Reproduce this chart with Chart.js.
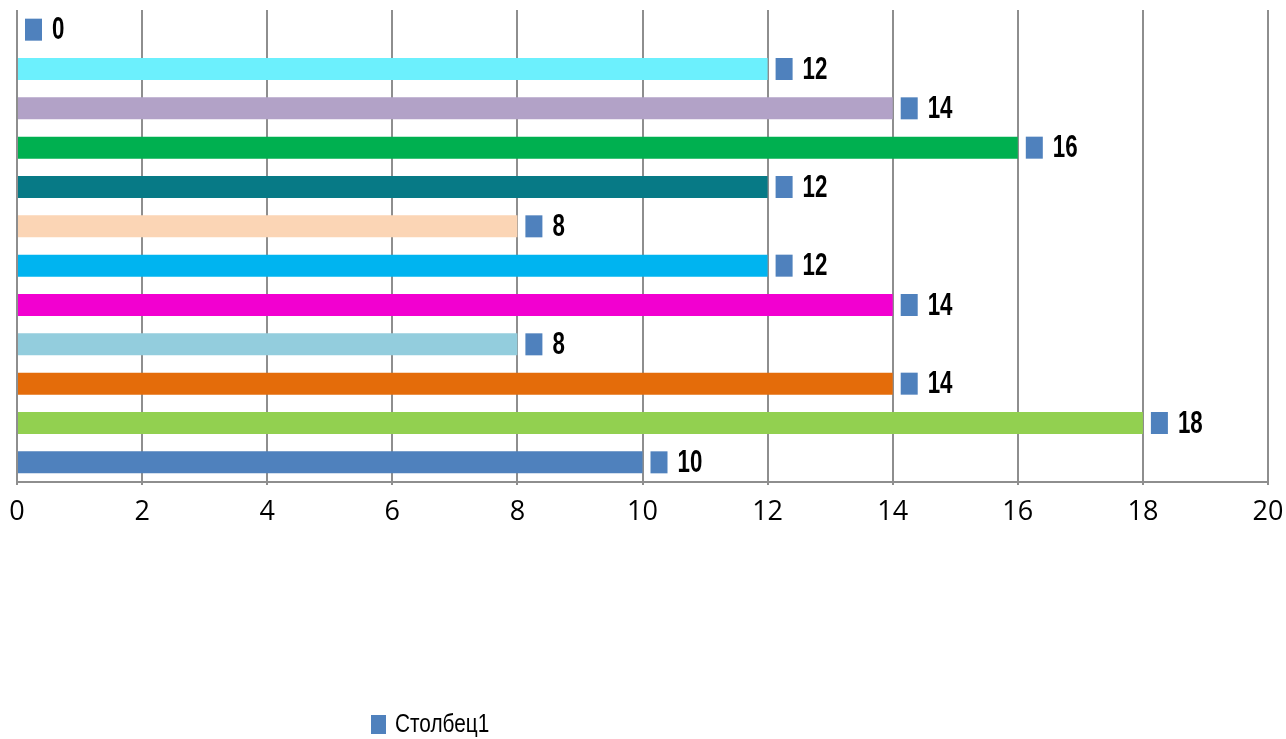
<!DOCTYPE html>
<html>
<head>
<meta charset="utf-8">
<script src="https://cdn.jsdelivr.net/npm/chart.js@4"></script>
<style>
  html, body { margin: 0; padding: 0; background: #fff; }
  #wrap { width: 1286px; height: 739px; }
</style>
</head>
<body>
<div id="wrap"><canvas id="c" width="1286" height="739"></canvas></div>
<script>
// categories top -> bottom (unnamed in the original)
const categories = ['1', '2', '3', '4', '5', '6', '7', '8', '9', '10', '11', '12'];
const values = [0, 12, 14, 16, 12, 8, 12, 14, 8, 14, 18, 10];
const barColors = ['#e6b9b8', '#6cf0fd', '#b2a2c7', '#00b050', '#077a86', '#fbd5b5',
    '#00b4f0', '#f200d0', '#93cddd', '#e46c0a', '#92d050', '#4f81bd'];
const xTicks = [0, 2, 4, 6, 8, 10, 12, 14, 16, 18, 20];
const seriesName = 'Столбец1';

const markerColor = '#4f81bd';
const sans = '"Liberation Sans", Arial, sans-serif';

// fake a narrow face, none is installed
function narrowText(ctx, text, x, y, squeeze) {
    ctx.save();
    ctx.translate(x, y);
    ctx.scale(squeeze, 1);
    ctx.fillText(text, 0, 0);
    ctx.restore();
}

// value labels: small blue box + bold number past the bar end
const valueLabels = {
    id: 'valueLabels',
    afterDatasetsDraw(chart) {
        const ctx = chart.ctx;
        const meta = chart.getDatasetMeta(0);
        ctx.save();
        ctx.font = 'bold 31px ' + sans;
        ctx.textBaseline = 'middle';
        meta.data.forEach((bar, i) => {
            ctx.fillStyle = markerColor;
            ctx.fillRect(bar.x + 8, bar.y - 11, 17, 22);
            ctx.fillStyle = '#000';
            narrowText(ctx, String(values[i]), bar.x + 35, bar.y + 1, 0.72);
        });
        ctx.restore();
    }
};

// legend drawn below, off-centre like the original
const bottomLegend = {
    id: 'bottomLegend',
    afterDraw(chart) {
        const ctx = chart.ctx;
        ctx.save();
        ctx.fillStyle = markerColor;
        ctx.fillRect(371, 715, 15, 19);
        ctx.fillStyle = '#000';
        ctx.font = '26px ' + sans;
        ctx.textBaseline = 'middle';
        narrowText(ctx, chart.data.datasets[0].label, 395, 725, 0.8);
        ctx.restore();
    }
};

new Chart(document.getElementById('c'), {
    type: 'bar',
    data: {
        labels: categories,
        datasets: [{
            label: seriesName,
            data: values,
            backgroundColor: barColors,
            borderWidth: 0,
            barPercentage: 1,
            categoryPercentage: 0.56
        }]
    },
    options: {
        indexAxis: 'y',
        responsive: false,
        animation: false,
        layout: { padding: { left: 17, right: 18, top: 10, bottom: 0 } },
        plugins: {
            legend: { display: false },
            tooltip: { enabled: false }
        },
        scales: {
            x: {
                min: 0,
                max: 20,
                afterBuildTicks(axis) { axis.ticks = xTicks.map(v => ({ value: v })); },
                afterFit(axis) {
                    axis.height = 257;
                    axis.paddingLeft = 0;
                    axis.paddingRight = 0;
                },
                grid: { color: '#8e8e8e', lineWidth: 2, drawTicks: true, tickLength: 3 },
                border: { color: '#8e8e8e', width: 2 },
                ticks: {
                    color: '#000',
                    padding: 11,
                    font: { family: '"Open Sans", sans-serif', size: 27 }
                }
            },
            y: {
                afterFit(axis) { axis.width = 0; },
                grid: { display: false },
                border: { display: false },
                ticks: { display: false }
            }
        }
    },
    plugins: [valueLabels, bottomLegend]
});
</script>
</body>
</html>
